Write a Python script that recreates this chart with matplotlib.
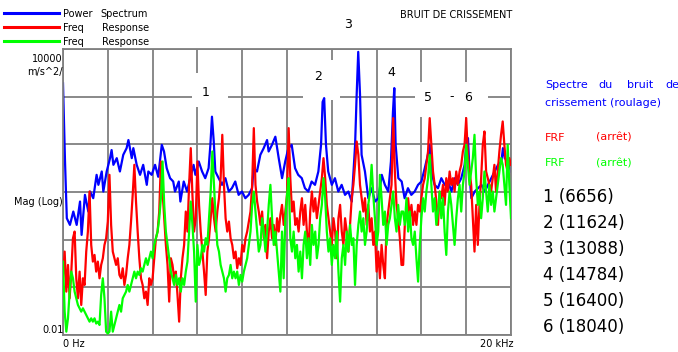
import numpy as np
import matplotlib.pyplot as plt
from matplotlib.lines import Line2D
from matplotlib.patches import Rectangle
from matplotlib.ticker import NullLocator

W, H = 678, 352

### --------- DATA (log10 of magnitude) --------- ###

# power spectrum of the rolling squeal, frequency in kHz
ps_freq = [0.0, 0.09, 0.17, 0.31, 0.46, 0.61, 0.76, 0.83, 0.98, 1.13,
           1.21, 1.35, 1.50, 1.58, 1.73, 1.80, 1.95, 2.10, 2.17, 2.25,
           2.40, 2.54, 2.69, 2.84, 2.92, 3.07, 3.14, 3.29, 3.44, 3.58,
           3.74, 3.81, 3.96, 4.11, 4.25, 4.41, 4.51, 4.63, 4.78, 4.92, 5.00,
           5.17, 5.24, 5.39, 5.54, 5.68, 5.83, 5.91, 6.06, 6.21, 6.35,
           6.50, 6.58, 6.65, 6.73, 6.80, 6.95, 7.10, 7.25, 7.40, 7.54,
           7.69, 7.84, 7.99, 8.14, 8.29, 8.44, 8.51, 8.66, 8.81, 8.96,
           9.11, 9.18, 9.33, 9.48, 9.63, 9.78, 9.92,
           10.06, 10.21, 10.36, 10.50, 10.66, 10.80, 10.95, 11.10, 11.25, 11.40,
           11.52, 11.59, 11.66, 11.74, 11.84, 12.00, 12.14, 12.29, 12.44, 12.59,
           12.74, 12.89, 13.04, 13.11, 13.18, 13.26, 13.33, 13.48, 13.63, 13.78,
           13.93, 14.08, 14.23, 14.37, 14.52, 14.64, 14.73, 14.79, 14.85, 14.97, 15.12,
           15.25, 15.40, 15.55, 15.70, 15.85, 16.00, 16.15, 16.29, 16.37, 16.44,
           16.59, 16.74, 16.89, 17.04, 17.19, 17.34, 17.49, 17.63, 17.78, 17.93,
           18.00, 18.08, 18.16, 18.23, 18.38, 18.53, 18.68, 18.83, 18.97, 19.12,
           19.27, 19.42, 19.57, 19.64, 19.72, 19.87, 20.0]
ps_log = [3.28, 1.64, 0.45, 0.31, 0.59, 0.31, 0.80, 0.10, 0.94, 0.59,
          1.01, 0.87, 1.36, 1.15, 1.43, 1.01, 1.43, 1.71, 1.88, 1.57,
          1.71, 1.43, 1.78, 1.92, 2.09, 1.71, 1.92, 1.57, 1.36, 1.57,
          1.15, 1.43, 1.36, 1.57, 1.32, 1.99, 1.85, 1.50, 1.29, 1.22, 1.01,
          1.22, 0.80, 1.22, 1.01, 1.29, 1.57, 1.36, 1.64, 1.43, 1.29,
          1.50, 1.99, 2.58, 2.06, 1.43, 1.29, 1.15, 1.29, 1.01, 1.08,
          1.22, 0.94, 1.01, 0.87, 0.94, 1.08, 1.50, 1.43, 1.78, 1.92,
          2.09, 1.85, 1.99, 2.16, 1.71, 1.29, 1.64,
          1.92, 1.99, 1.50, 1.36, 1.29, 1.08, 1.01, 1.22, 1.15, 1.43,
          1.99, 2.89, 2.97, 1.99, 1.43, 1.15, 1.29, 1.01, 1.15, 0.94,
          1.01, 0.80, 1.99, 3.04, 3.94, 3.04, 1.78, 1.43, 0.87, 1.08,
          0.80, 0.87, 1.36, 1.15, 1.01, 1.64, 2.68, 3.18, 1.99, 1.29, 1.22,
          0.87, 1.08, 0.94, 1.01, 1.15, 1.22, 1.50, 1.78, 1.99, 1.43,
          1.15, 1.08, 1.29, 1.15, 1.22, 1.01, 1.29, 1.15, 1.29, 1.57,
          1.99, 2.13, 1.29, 0.87, 1.01, 1.08, 1.15, 1.01, 1.15, 1.29,
          1.43, 1.57, 1.64, 1.92, 1.71, 1.64, 1.43]

# FRF (red), evenly spaced bins from 0 to 20 kHz
frf_red_log = [
    # 0 - 5 kHz
    -0.81, -0.25, -1.09, -0.53, -1.23, -0.67, 0.03, 0.17, -0.81, -1.23,
    -0.67, -1.37, -0.81, -0.95, -0.25, 0.17, 1.01, -0.11, -0.46, -0.32,
    -0.67, -0.46, -0.81, -0.53, -0.39, -0.11, 0.03, 0.38, 1.36, 0.31,
    -0.25, -0.39, -0.53, -0.39, -0.74, -0.81, -0.60, -0.95, -0.74, -0.39,
    -0.11, 0.38, 0.94, 1.57, 0.80, 0.17, -0.39, -0.81, -0.95, -1.23,
    -1.09, -1.37, -0.81, -0.95, -0.81, -0.39, 0.03, 0.17, 0.59, 1.64,
    1.01, 0.45, -0.11, -0.53, -1.30, -0.39, -0.53, -0.81,
    # 5 - 10 kHz
    -0.67, -1.16, -1.72, -0.81, -0.39, -0.11, 0.59, 0.17, 1.15, 1.92,
    0.94, 0.17, 0.45, 1.64, 0.73, 0.17, -0.25, -0.67, -1.16, -0.25,
    0.03, 0.45, 0.87, 0.45, 0.17, 0.59, 0.87, 1.29, 2.20, 1.15,
    0.45, 0.17, 0.38, 0.03, -0.11, -0.39, -0.25, -0.60, -0.39, -0.53,
    -0.11, -0.25, 0.03, 0.17, 0.38, 0.59, 1.15, 2.34, 1.15, 0.80,
    0.59, 0.31, 0.59, 0.03, 0.31, -0.39, 0.17, 0.45, 0.03, 0.31,
    -0.11, 0.45, 0.17, 0.52, 0.73, 0.31, 0.59, 0.94, 2.34,
    # 10 - 15 kHz
    1.29, 0.59, 0.80, 0.31, 0.45, 0.17, 0.59, 0.87, 0.31, 0.73,
    0.17, -0.25, 0.59, 1.01, 0.59, 0.87, 0.45, 0.73, 1.01, 1.29,
    1.71, 1.29, 0.73, 0.45, 0.17, -0.11, 0.45, 0.17, -0.39, 0.45,
    0.73, 0.17, -0.11, 0.45, 0.17, -0.25, 0.31, 0.87, 1.15, 1.57,
    2.06, 1.78, 1.15, 0.87, 0.59, 0.87, 0.31, 0.73, 0.17, 0.45,
    -0.11, 0.17, -0.67, -0.25, -0.81, -0.11, -0.53, -0.81, 0.31, 0.59,
    0.87, 1.15, 2.55, 1.43, 0.73, 0.45, 0.03, -0.53,
    # 15 - 20 kHz
    -0.53, 0.31, 0.59, 0.87, 0.45, 0.73, 0.31, 0.59, 0.31, 0.73,
    0.59, 0.87, 1.15, 1.29, 1.57, 1.85, 2.55, 1.99, 1.43, 1.15,
    0.80, 0.31, 1.01, 0.87, 1.15, 0.73, 1.29, 1.01, 1.43, 1.15,
    1.29, 1.01, 1.43, 1.15, 1.43, 1.57, 1.85, 1.99, 2.55, 1.78,
    1.43, 1.15, 0.45, -0.25, 0.73, -0.11, 0.73, 1.29, 1.99, 2.27,
    1.43, 1.29, 1.15, 1.01, 1.29, 1.57, 1.01, 1.43, 1.85, 2.20,
    2.48, 1.99, 1.57, 1.43, 1.71, 1.57]

# FRF (green), same bins
frf_green_log = [
    # 0 - 5 kHz
    -0.46, -1.51, -1.93, -1.65, -1.09, -0.67, -0.81, -1.09, -1.23, -1.37,
    -1.44, -1.51, -1.44, -1.51, -1.58, -1.65, -1.72, -1.65, -1.72, -1.65,
    -1.76, -1.72, -1.79, -1.16, -0.81, -1.23, -1.93, -1.97, -1.93, -1.51,
    -1.93, -1.79, -1.65, -1.51, -1.37, -1.51, -1.23, -1.16, -1.09, -0.95,
    -1.09, -0.95, -0.81, -0.67, -0.81, -0.67, -0.74, -0.60, -0.67, -0.53,
    -0.39, -0.53, -0.39, -0.25, -0.39, -0.11, 0.03, 0.17, 0.45, 0.87,
    1.64, 0.73, 0.17, -0.11, -0.39, -0.67, -0.81, -0.95,
    # 5 - 10 kHz
    -0.74, -0.95, -0.81, -1.09, -0.81, -0.95, -0.67, -0.46, 0.17, 0.80,
    0.31, -0.25, -1.30, -0.11, -0.53, -0.39, -0.11, -0.25, 0.03, -0.11,
    0.45, 1.01, 1.85, 1.15, 0.45, -0.11, -0.25, -0.53, -0.67, -0.81,
    -1.09, -0.81, -0.74, -0.53, -0.81, -0.67, -0.81, -0.67, -0.95, -0.74,
    -0.88, -0.67, -0.53, -0.39, -0.11, 0.17, 0.73, 1.01, 0.59, 0.17,
    -0.25, -0.11, 0.45, 0.17, -0.25, 0.17, 0.73, 1.15, 0.45, -0.11,
    0.17, -0.25, -0.67, -1.09, 0.17, -0.81, 0.45, 0.94, 1.29,
    # 10 - 15 kHz
    0.03, -0.25, 0.17, -0.39, -0.11, -0.67, -0.25, -0.81, -0.11, 0.17,
    -0.39, 0.03, -0.53, 0.31, -0.11, 0.17, -0.39, -0.11, 0.45, 0.73,
    1.29, 0.87, 0.17, -0.25, 0.03, -0.53, -0.11, -0.39, 0.17, -0.67,
    -1.30, -0.39, -0.11, -0.53, 0.17, -0.25, 0.31, -0.11, 0.03, -0.95,
    -0.11, 0.31, 0.59, 0.17, 0.45, -0.11, 0.17, 0.73, 1.01, 1.57,
    0.94, 0.45, -0.11, 0.17, 1.36, 0.87, 0.31, 0.59, -0.11, 0.31,
    0.45, 0.73, 1.01, 0.45, 0.17, 0.73, 0.31, 0.59,
    # 15 - 20 kHz
    0.59, 0.31, 0.87, 0.17, 0.59, 0.03, -0.11, 0.17, -0.39, -0.88,
    -0.11, 0.45, 0.87, 0.59, 1.01, 1.29, 1.78, 1.15, 0.59, 0.87,
    0.31, 0.59, 1.01, 0.45, 0.87, 0.17, -0.32, 0.59, 1.01, 0.73,
    0.31, -0.11, 0.45, 0.87, 1.15, 0.59, 1.15, 1.43, 1.99, 1.57,
    1.15, 1.43, 1.71, 2.20, 1.29, 0.73, 1.01, 0.45, 0.87, 1.43,
    1.01, 0.59, 1.15, 0.73, 1.01, 0.59, 0.87, 1.15, 1.43, 1.71,
    1.57, 1.15, 0.73, 1.99, 1.15, 0.45]

peak_ids = ['1', '2', '3', '4', '5', '6']
peak_hz = [6656, 11624, 13088, 14784, 16400, 18040]

BLUE, RED, GREEN, GRID = '#0000ff', '#ff0000', '#00ff00', '#808080'


def ftext(x, y, s, **kw):
    # place text by pixel position in the 678x352 canvas
    return fig.text(x / W, 1 - y / H, s, **kw)


fig = plt.figure(figsize=(W / 100, H / 100), dpi=100)
ax = fig.add_axes([63 / W, 1 - 335 / H, 448 / W, 286 / H])

frf_freq = np.linspace(0, 20, len(frf_red_log))
ax.plot(ps_freq, 10.0 ** np.array(ps_log), color=BLUE, lw=1.6, zorder=2)
ax.plot(frf_freq, 10.0 ** np.array(frf_red_log), color=RED, lw=1.6, zorder=3)
ax.plot(frf_freq, 10.0 ** np.array(frf_green_log), color=GREEN, lw=1.6, zorder=4)

ax.set_yscale('log')
ax.set_xlim(0, 20)
ax.set_ylim(1e-2, 1e4)
ax.set_xticks(np.arange(0, 21, 2))
ax.set_yticks(10.0 ** np.arange(-2, 5))
ax.yaxis.set_minor_locator(NullLocator())
ax.tick_params(length=0, labelbottom=False, labelleft=False)
ax.set_axisbelow(True)
ax.grid(True, color=GRID, lw=1.3)
for sp in ax.spines.values():
    sp.set_color(GRID)
    sp.set_linewidth(1.3)

# white gaps cut into the grid around the peak labels
for (x0, y0, w, h) in [(192, 73, 36, 34), (303, 60, 37, 40), (415, 82, 73, 35)]:
    ax.add_patch(Rectangle((x0 / W, 1 - (y0 + h) / H), w / W, h / H,
                           transform=fig.transFigure, fc='white', ec='none', zorder=1.5))

for lab, (x, y) in zip(peak_ids, [(206, 92), (318, 77), (348, 24), (391, 73), (428, 97), (468, 97)]):
    ftext(x, y, lab, ha='center', va='center', fontsize=9)
ftext(452, 97, '-', ha='center', va='center', fontsize=9)

ftext(400, 15, 'BRUIT DE CRISSEMENT', va='center', fontsize=7)

# legend in the top-left corner
for y, c in [(13, BLUE), (27, RED), (41, GREEN)]:
    fig.add_artist(Line2D([4 / W, 59 / W], [1 - y / H, 1 - y / H], color=c, lw=2.2))
ftext(63, 14, 'Power', va='center', fontsize=7)
ftext(100, 14, 'Spectrum', va='center', fontsize=7)
for y in (28, 42):
    ftext(63, y, 'Freq', va='center', fontsize=7)
    ftext(102, y, 'Response', va='center', fontsize=7)

# axis annotations
ftext(63, 59, '10000', ha='right', va='center', fontsize=7)
ftext(63, 72, 'm/s^2/', ha='right', va='center', fontsize=7)
ftext(63, 202, 'Mag (Log)', ha='right', va='center', fontsize=7)
ftext(64, 330, '0.01', ha='right', va='center', fontsize=7)
ftext(63, 344, '0 Hz', va='center', fontsize=7)
ftext(513, 344, '20 kHz', ha='right', va='center', fontsize=7)

# side notes
for x, w in zip([545, 598, 627, 665], ['Spectre', 'du', 'bruit', 'de']):
    ftext(x, 85, w, va='center', fontsize=8, color=BLUE)
ftext(545, 103, 'crissement (roulage)', va='center', fontsize=8, color=BLUE)
for y, c in [(138, RED), (163, GREEN)]:
    ftext(545, y, 'FRF', va='center', fontsize=8, color=c)
    ftext(596, y, '(arrêt)', va='center', fontsize=8, color=c)
for i, (lab, hz) in enumerate(zip(peak_ids, peak_hz)):
    ftext(543, 197 + i * 26, f'{lab} ({hz})', va='center', fontsize=12)

fig.savefig('out.png', dpi=100)
